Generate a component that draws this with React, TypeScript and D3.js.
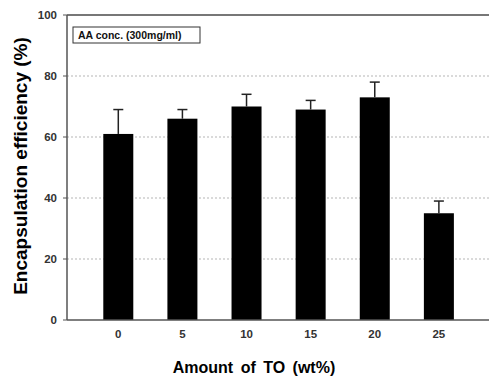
import React from "react";
import * as d3 from "d3";

const amounts = [0, 5, 10, 15, 20, 25];
const efficiency = [61, 66, 70, 69, 73, 35];
const errorUp = [8, 3, 4, 3, 5, 4];
const yTicks = [0, 20, 40, 60, 80, 100];
const gridValues = [20, 40, 60, 80];

const W = 489;
const H = 379;

const App = () => {
  const left = 67;
  const top = 15;
  const bottom = 320;
  const right = 503; // the frame runs past the picture edge

  const x = d3.scaleLinear().domain([-4, 30]).range([left, right]);
  const y = d3.scaleLinear().domain([0, 100]).range([bottom, top]);
  const barW = 30;
  const capW = 10;

  const font = "'Liberation Sans', Arial, sans-serif";

  return (
    <svg
      width={W}
      height={H}
      style={{ position: "absolute", left: 0, top: 0, background: "#fff" }}
      fontFamily={font}
    >
      {/* dotted grid */}
      {gridValues.map((v) => (
        <line
          key={"g" + v}
          x1={left}
          x2={right}
          y1={y(v)}
          y2={y(v)}
          stroke="#b5b5b5"
          strokeWidth={1}
          strokeDasharray="2,2"
        />
      ))}

      {/* bars */}
      {amounts.map((a, i) => (
        <rect
          key={"b" + a}
          x={x(a) - barW / 2}
          y={y(efficiency[i])}
          width={barW}
          height={y(0) - y(efficiency[i])}
          fill="#000"
        />
      ))}

      {/* error bars (upper only) */}
      {amounts.map((a, i) => {
        const cx = x(a);
        const yt = y(efficiency[i] + errorUp[i]);
        return (
          <g key={"e" + a} stroke="#222" strokeWidth={1.5}>
            <line x1={cx} x2={cx} y1={y(efficiency[i])} y2={yt} />
            <line x1={cx - capW / 2} x2={cx + capW / 2} y1={yt} y2={yt} />
          </g>
        );
      })}

      {/* frame */}
      <line x1={left} x2={right} y1={top} y2={top} stroke="#777" strokeWidth={2} />
      <line x1={left} x2={left} y1={top} y2={bottom} stroke="#555" strokeWidth={1.5} />
      <line x1={left} x2={right} y1={bottom} y2={bottom} stroke="#555" strokeWidth={1.5} />

      {/* y ticks */}
      {yTicks.map((t) => (
        <g key={"y" + t}>
          <line x1={left - 4} x2={left} y1={y(t)} y2={y(t)} stroke="#555" strokeWidth={1} />
          <text
            x={left - 10}
            y={y(t)}
            dy="0.35em"
            textAnchor="end"
            fontSize={11.5}
            fontWeight="bold"
            fill="#333"
          >
            {t}
          </text>
        </g>
      ))}

      {/* x tick labels */}
      {amounts.map((a) => (
        <text
          key={"x" + a}
          x={x(a)}
          y={338}
          textAnchor="middle"
          fontSize={11.5}
          fontWeight="bold"
          fill="#333"
        >
          {a}
        </text>
      ))}

      {/* legend box */}
      <rect x={73} y={27} width={127} height={16} fill="#fff" stroke="#333" strokeWidth={1} />
      <text x={78} y={39} fontSize={10.5} fontWeight="bold" fill="#111">
        AA conc. (300mg/ml)
      </text>

      {/* axis titles */}
      <text
        x={254}
        y={373}
        textAnchor="middle"
        fontSize={16}
        fontWeight="bold"
        fill="#000"
        wordSpacing={3}
      >
        Amount of TO (wt%)
      </text>
      <text
        transform={`translate(27, 166) rotate(-90)`}
        textAnchor="middle"
        fontSize={19}
        fontWeight="bold"
        fill="#000"
      >
        Encapsulation efficiency (%)
      </text>
    </svg>
  );
};

export default App;
